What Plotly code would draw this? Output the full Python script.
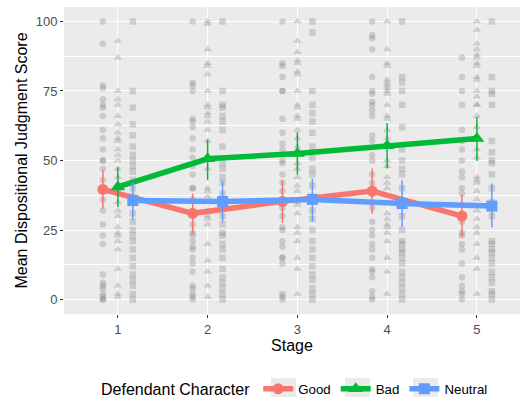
import plotly.graph_objects as go

stages = [1, 2, 3, 4, 5]
stage_labels = ["1", "2", "3", "4", "5"]
groups = ["Good", "Bad", "Neutral"]

# Mean scores and error bar limits per group
good_mean = [39.6, 31.0, 35.3, 39.0, 30.0]
good_hi = [46.5, 38.1, 42.9, 47.1, 37.8]
good_lo = [32.7, 23.7, 27.5, 30.9, 22.3]

bad_mean = [40.5, 50.6, 52.5, 55.3, 57.9]
bad_hi = [47.6, 57.5, 60.2, 63.5, 65.6]
bad_lo = [33.3, 42.9, 45.0, 47.1, 49.8]

neutral_mean = [35.6, 35.3, 36.0, 34.5, 33.6]
neutral_hi = [42.3, 42.5, 43.5, 42.9, 41.7]
neutral_lo = [28.5, 27.9, 28.2, 26.1, 25.9]

# Individual judgments (raw points) per stage
good_raw = [
    [100, 92, 77, 76, 72, 70, 69, 66, 61, 58, 54, 50, 50, 47, 43, 39, 36, 32, 27, 23, 20, 9, 6, 5, 4, 2, 1, 0, 0],
    [100, 78, 77, 75, 65, 64, 62, 58, 54, 51, 48, 45, 40, 40, 36, 31, 27, 24, 23, 21, 19, 18, 15, 13, 10, 5, 4, 2, 1, 0],
    [100, 85, 84, 80, 75, 75, 65, 60, 56, 54, 50, 49, 45, 42, 39, 36, 33, 30, 26, 25, 21, 19, 15, 15, 13, 2, 1, 0],
    [100, 95, 94, 90, 80, 75, 74, 71, 70, 68, 66, 59, 57, 52, 50, 45, 42, 38, 33, 28, 25, 23, 20, 18, 15, 11, 10, 8, 3, 1, 0],
    [87, 80, 75, 70, 61, 57, 54, 50, 46, 44, 40, 38, 30, 28, 24, 23, 20, 18, 13, 8, 5, 3, 2, 0],
]
bad_raw = [
    [93, 87, 75, 72, 70, 66, 63, 60, 58, 57, 54, 52, 50, 47, 44, 39, 38, 35, 32, 30, 26, 24, 23, 21, 18, 11, 5, 2, 1],
    [100, 99, 90, 85, 84, 81, 75, 70, 69, 67, 66, 64, 61, 57, 51, 47, 40, 39, 37, 35, 32, 30, 29, 27, 20, 14, 10, 5, 1],
    [100, 93, 89, 86, 85, 82, 81, 75, 70, 69, 66, 65, 61, 58, 55, 52, 49, 47, 44, 41, 39, 35, 34, 31, 26, 24, 21, 15, 11, 2],
    [100, 90, 85, 84, 79, 78, 77, 76, 75, 74, 70, 66, 65, 61, 58, 55, 50, 48, 44, 42, 40, 35, 31, 29, 27, 26, 24, 21, 15, 10, 2],
    [100, 97, 92, 90, 88, 87, 85, 84, 80, 79, 75, 73, 70, 70, 66, 62, 58, 54, 51, 44, 43, 42, 39, 36, 32, 29, 26, 24, 20, 15, 11, 2],
]
neutral_raw = [
    [100, 75, 69, 63, 59, 55, 52, 50, 48, 46, 43, 40, 37, 31, 28, 25, 23, 21, 18, 15, 12, 9, 7, 5, 2, 0],
    [100, 75, 70, 69, 66, 64, 61, 55, 49, 47, 44, 42, 38, 33, 30, 27, 24, 23, 20, 18, 15, 11, 8, 6, 4, 2, 0],
    [100, 96, 75, 70, 67, 64, 60, 55, 51, 47, 45, 41, 37, 32, 29, 25, 21, 18, 15, 12, 9, 7, 4, 2, 0],
    [100, 80, 78, 75, 70, 62, 54, 50, 47, 45, 40, 35, 30, 25, 21, 20, 18, 17, 15, 13, 10, 8, 6, 4, 2, 0],
    [100, 80, 75, 74, 70, 57, 53, 50, 49, 45, 40, 35, 30, 21, 20, 18, 17, 15, 13, 10, 8, 6, 3, 2, 0],
]

# Styling
colors = {"Good": "#F8766D", "Bad": "#00BA38", "Neutral": "#619CFF"}
symbols = {"Good": "circle", "Bad": "triangle-up", "Neutral": "square"}
msize = {"Good": 11, "Bad": 13, "Neutral": 11}
raw_size = {"Good": 6.5, "Bad": 7.5, "Neutral": 6.5}
dodge = {"Good": -1 / 6, "Bad": 0.0, "Neutral": 1 / 6}

means = {"Good": (good_mean, good_hi, good_lo),
         "Bad": (bad_mean, bad_hi, bad_lo),
         "Neutral": (neutral_mean, neutral_hi, neutral_lo)}
raws = {"Good": good_raw, "Bad": bad_raw, "Neutral": neutral_raw}

FONT = "Liberation Sans, Arial, Helvetica, sans-serif"
W, H = 527, 397
ML, MR, MT, MB = 64, 7, 7, 83
PW, PH = W - ML - MR, H - MT - MB

fig = go.Figure()

# raw points
for g in groups:
    xs, ys = [], []
    for s, vals in zip(stages, raws[g]):
        xs += [s + dodge[g]] * len(vals)
        ys += vals
    fig.add_trace(go.Scatter(
        x=xs, y=ys, mode="markers", showlegend=False, hoverinfo="skip",
        marker=dict(symbol=symbols[g], size=raw_size[g], color="rgba(127,127,127,0.3)",
                    line=dict(width=0)),
    ))

# mean lines with error bars
for g in groups:
    m, hi, lo = means[g]
    fig.add_trace(go.Scatter(
        x=[s + dodge[g] for s in stages], y=m, mode="lines+markers", name=g,
        line=dict(color=colors[g], width=5.5),
        marker=dict(symbol=symbols[g], size=msize[g], color=colors[g], line=dict(width=0)),
        error_y=dict(type="data", symmetric=False,
                     array=[h - v for h, v in zip(hi, m)],
                     arrayminus=[v - l for v, l in zip(m, lo)],
                     color=colors[g], thickness=1.5, width=0),
    ))

# grey legend key backgrounds (pixel positions converted to paper coords)
key_px = [(271, 296), (345, 370), (413, 438)]
for x0, x1 in key_px:
    fig.add_shape(type="rect", xref="paper", yref="paper", layer="below",
                  x0=(x0 - ML) / PW, x1=(x1 - ML) / PW,
                  y0=(MT + PH - 397) / PH, y1=(MT + PH - 378) / PH,
                  fillcolor="#EBEBEB", line=dict(width=0))

fig.update_layout(
    width=W, height=H,
    margin=dict(l=ML, r=MR, t=MT, b=MB, autoexpand=False),
    paper_bgcolor="white", plot_bgcolor="#EBEBEB",
    font=dict(family=FONT, size=13, color="black"),
    legend=dict(
        orientation="h", x=0.5 + 4 / PW, xanchor="center", y=-0.245, yanchor="middle",
        title=dict(text="Defendant Character", side="left", font=dict(size=16)),
        font=dict(size=13.3), itemwidth=30, bgcolor="rgba(0,0,0,0)",
    ),
    xaxis=dict(
        range=[0.4, 5.48], tickvals=stages, ticktext=stage_labels,
        showgrid=True, gridcolor="white", gridwidth=1.1, zeroline=False,
        ticks="outside", ticklen=3, tickcolor="#333333", tickwidth=1,
        tickfont=dict(size=13, color="#4D4D4D"),
        title=dict(text="Stage", font=dict(size=16), standoff=4),
        showline=False, automargin=False,
    ),
    yaxis=dict(
        range=[-5.2, 105.2], tickvals=[0, 25, 50, 75, 100],
        showgrid=True, gridcolor="white", gridwidth=1.1, zeroline=False,
        ticks="outside", ticklen=3, tickcolor="#333333", tickwidth=1,
        tickfont=dict(size=13, color="#4D4D4D"),
        title=dict(text="Mean Dispositional Judgment Score", font=dict(size=16), standoff=4),
        minor=dict(tickvals=[12.5, 37.5, 62.5, 87.5], showgrid=True, gridcolor="white", gridwidth=0.5),
        showline=False, automargin=False,
    ),
)

fig.write_html("out.html", config={"displayModeBar": False},
               post_script="document.body.style.margin='0px';")
